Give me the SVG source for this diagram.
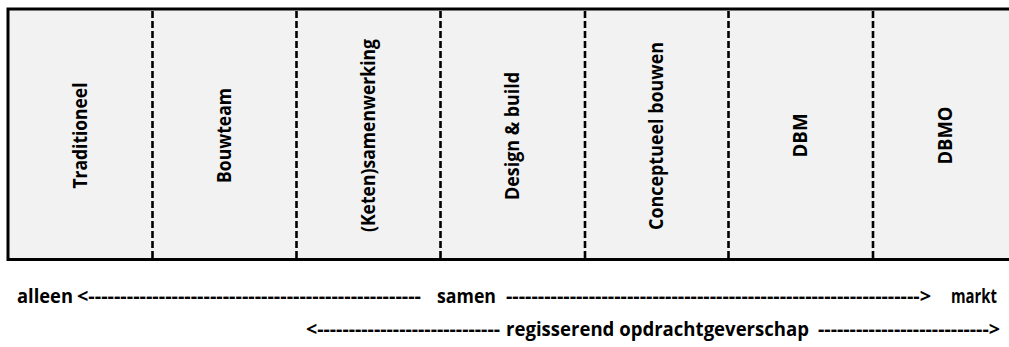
<svg xmlns="http://www.w3.org/2000/svg" width="1009" height="347" viewBox="0 0 1009 347">
<style>
.lbl{font-family:"Open Sans","Noto Sans","Liberation Sans",sans-serif;font-weight:700;font-size:20px;fill:#000;}
.div{stroke:#000;stroke-width:2.6;stroke-dasharray:7 3;fill:none;}
</style>
<rect width="1009" height="347" fill="#ffffff"/>
<g id="frame">
<rect x="8" y="9" width="1015" height="250.5" fill="#f2f2f2" stroke="#000" stroke-width="3"/>
</g>
<g id="connectors">
<line class="div" x1="152.5" y1="11" x2="152.5" y2="258"/>
<line class="div" x1="296.5" y1="11" x2="296.5" y2="258"/>
<line class="div" x1="440.5" y1="11" x2="440.5" y2="258"/>
<line class="div" x1="585" y1="11" x2="585" y2="258"/>
<line class="div" x1="728.5" y1="11" x2="728.5" y2="258"/>
<line class="div" x1="873" y1="11" x2="873" y2="258"/>
</g>
<g id="traditioneel"><text class="lbl" transform="translate(87,135.5) rotate(-90)" text-anchor="middle" textLength="106" lengthAdjust="spacingAndGlyphs">Traditioneel</text></g>
<g id="bouwteam"><text class="lbl" transform="translate(231,135.5) rotate(-90)" text-anchor="middle" textLength="95" lengthAdjust="spacingAndGlyphs">Bouwteam</text></g>
<g id="ketensamenwerking"><text class="lbl" transform="translate(375,135.5) rotate(-90)" text-anchor="middle" textLength="193" lengthAdjust="spacingAndGlyphs">(Keten)samenwerking</text></g>
<g id="designbuild"><text class="lbl" transform="translate(519,136) rotate(-90)" text-anchor="middle" textLength="128" lengthAdjust="spacingAndGlyphs">Design &amp; build</text></g>
<g id="conceptueel"><text class="lbl" transform="translate(663,136) rotate(-90)" text-anchor="middle" textLength="188" lengthAdjust="spacingAndGlyphs">Conceptueel bouwen</text></g>
<g id="dbm"><text class="lbl" transform="translate(807,135.5) rotate(-90)" text-anchor="middle" textLength="44" lengthAdjust="spacingAndGlyphs">DBM</text></g>
<g id="dbmo"><text class="lbl" transform="translate(951.5,135.5) rotate(-90)" text-anchor="middle" textLength="58" lengthAdjust="spacingAndGlyphs">DBMO</text></g>
<g id="axis-samen">
<text class="lbl" x="17" y="303" textLength="56" lengthAdjust="spacingAndGlyphs">alleen</text>
<text class="lbl" x="77" y="303" textLength="344" lengthAdjust="spacingAndGlyphs">&lt;----------------------------------------------------</text>
<text class="lbl" x="437" y="303" textLength="59" lengthAdjust="spacingAndGlyphs">samen</text>
<text class="lbl" x="506" y="303" textLength="425" lengthAdjust="spacingAndGlyphs">-----------------------------------------------------------------&gt;</text>
<text class="lbl" x="951" y="303" textLength="46" lengthAdjust="spacingAndGlyphs">markt</text>
</g>
<g id="axis-regie">
<text class="lbl" x="306" y="336" textLength="194" lengthAdjust="spacingAndGlyphs">&lt;-----------------------------</text>
<text class="lbl" x="506" y="336" textLength="303" lengthAdjust="spacingAndGlyphs">regisserend opdrachtgeverschap</text>
<text class="lbl" x="818" y="336" textLength="182" lengthAdjust="spacingAndGlyphs">---------------------------&gt;</text>
</g>
</svg>
